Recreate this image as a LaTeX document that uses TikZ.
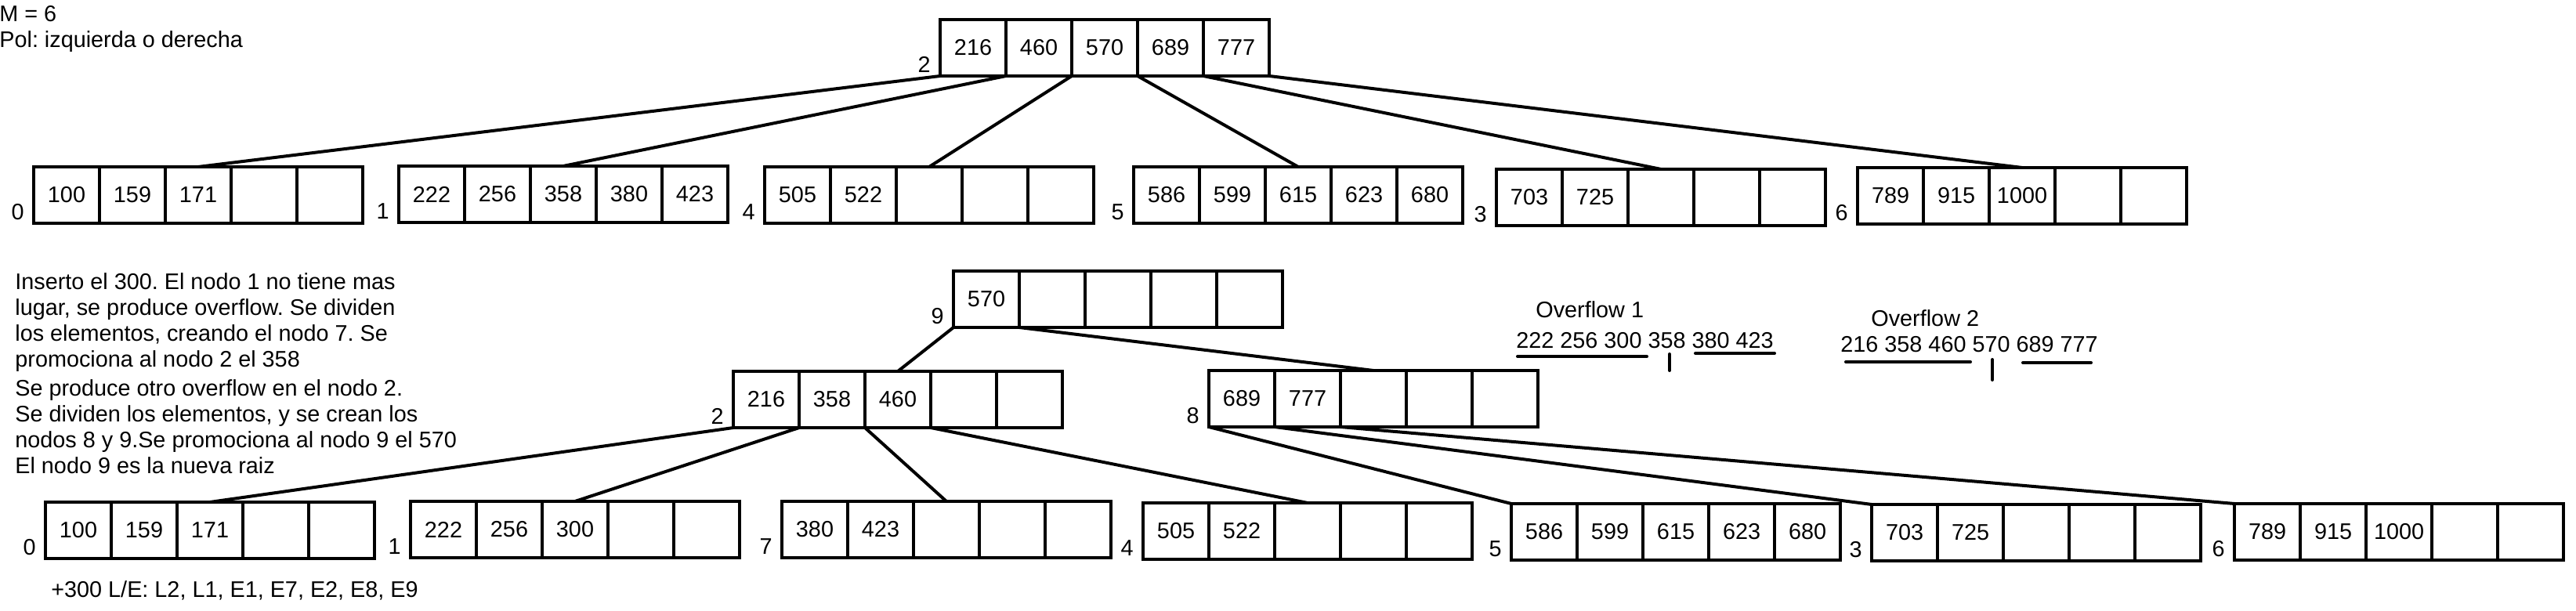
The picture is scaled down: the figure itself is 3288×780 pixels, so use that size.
\documentclass[tikz,border=0pt]{standalone}
\usepackage{fontspec}
\setmainfont{Liberation Sans}
\frenchspacing
\begin{document}
\begin{tikzpicture}[x=0.5pt,y=-0.5pt,
  font=\fontsize{14.4pt}{16.5pt}\selectfont,
  cell/.style={draw, line width=2pt, minimum width=42pt, minimum height=36pt,
    inner sep=0pt, outer sep=0pt, anchor=north west},
  num/.style={inner sep=0pt, anchor=south east},
  txt/.style={inner sep=0pt, align=left},
  link/.style={line width=2pt},
  bar/.style={line width=2pt, line cap=round}]

  \useasboundingbox (0,0) rectangle (3288,780);

  %% name, position, label, five keys
  \newcommand\bnode[8]{
    \node[cell] (#1-1) at (#2) {#4};
    \node[cell] (#1-2) at (#1-1.north east) {#5};
    \node[cell] (#1-3) at (#1-2.north east) {#6};
    \node[cell] (#1-4) at (#1-3.north east) {#7};
    \node[cell] (#1-5) at (#1-4.north east) {#8};
    \node[num] (#1-l) at ([xshift=-6pt,yshift=2pt]#1-1.south west) {#3};
  }

  \node[txt, anchor=north west] (head) at (-1,7) {M = 6\\Pol: izquierda o derecha};

  %% tree before the insertion
  \bnode{a2}{1200,25}{2}{216}{460}{570}{689}{777}
  \bnode{a0}{43,213}{0}{100}{159}{171}{}{}
  \bnode{a1}{509,212}{1}{222}{256}{358}{380}{423}
  \bnode{a4}{976,213}{4}{505}{522}{}{}{}
  \bnode{a5}{1447,213}{5}{586}{599}{615}{623}{680}
  \bnode{a3}{1910,216}{3}{703}{725}{}{}{}
  \bnode{a6}{2371,214}{6}{789}{915}{1000}{}{}

  \draw[link] (a2-1.south west) -- (a0-3.north); %% 2 -> 0
  \draw[link] (a2-1.south east) -- (a1-3.north); %% 2 -> 1
  \draw[link] (a2-2.south east) -- (a4-3.north); %% 2 -> 4
  \draw[link] (a2-3.south east) -- (a5-3.north); %% 2 -> 5
  \draw[link] (a2-4.south east) -- (a3-3.north); %% 2 -> 3
  \draw[link] (a2-5.south east) -- (a6-3.north); %% 2 -> 6

  \node[txt, anchor=north west] (expl) at (19,348)
  {Inserto el 300. El nodo 1 no tiene mas\\lugar, se produce overflow. Se dividen\\
   los elementos, creando el nodo 7. Se\\promociona al nodo 2 el 358\\[2pt]%
   Se produce otro overflow en el nodo 2.\\Se dividen los elementos, y se crean los\\
   nodos 8 y 9.Se promociona al nodo 9 el 570\\El nodo 9 es la nueva raiz};

  %% tree after the insertion
  \bnode{b9}{1217,346}{9}{570}{}{}{}{}
  \bnode{b2}{936,474}{2}{216}{358}{460}{}{}
  \bnode{b8}{1543,473}{8}{689}{777}{}{}{}
  \bnode{b0}{58,641}{0}{100}{159}{171}{}{}
  \bnode{b1}{524,640}{1}{222}{256}{300}{}{}
  \bnode{b7}{998,640}{7}{380}{423}{}{}{}
  \bnode{b4}{1459,642}{4}{505}{522}{}{}{}
  \bnode{b5}{1929,643}{5}{586}{599}{615}{623}{680}
  \bnode{b3}{2389,644}{3}{703}{725}{}{}{}
  \bnode{b6}{2852,643}{6}{789}{915}{1000}{}{}

  \draw[link] (b9-1.south west) -- (b2-3.north); %% 9 -> 2
  \draw[link] (b9-1.south east) -- (b8-3.north); %% 9 -> 8
  \draw[link] (b2-1.south west) -- (b0-3.north); %% 2 -> 0
  \draw[link] (b2-1.south east) -- (b1-3.north); %% 2 -> 1
  \draw[link] (b2-2.south east) -- (b7-3.north); %% 2 -> 7
  \draw[link] (b2-3.south east) -- (b4-3.north); %% 2 -> 4
  \draw[link] (b8-1.south west) -- (b5-1.north west); %% 8 -> 5
  \draw[link] (b8-1.south east) -- (b3-1.north west); %% 8 -> 3
  \draw[link] (b8-2.south east) -- (b6-1.north west); %% 8 -> 6

  %% overflows
  \node[txt, anchor=base west] (of1) at (1960,406) {Overflow 1};
  \node[txt, anchor=base west] (seq1) at (1935,445) {222 256 300 358 380 423};
  \draw[bar] (1937,455) -- (2102,455);
  \draw[bar] (2164,451) -- (2265,451);
  \draw[bar] (2131,452) -- (2131,473);

  \node[txt, anchor=base west] (of2) at (2388,417) {Overflow 2};
  \node[txt, anchor=base west] (seq2) at (2349,450) {216 358 460 570 689 777};
  \draw[bar] (2356,462) -- (2515,462);
  \draw[bar] (2582,463) -- (2669,463);
  \draw[bar] (2543,459) -- (2543,485);

  \node[txt, anchor=base west] (ops) at (65,762) {+300 L/E: L2, L1, E1, E7, E2, E8, E9};

\end{tikzpicture}
\end{document}
